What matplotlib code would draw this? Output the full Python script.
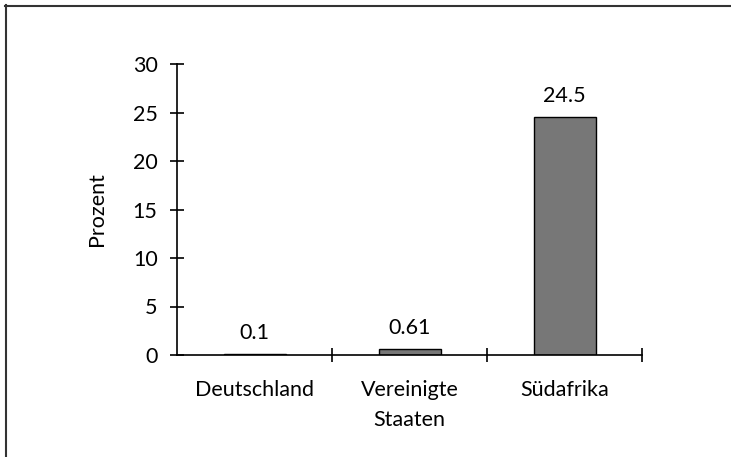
import matplotlib.pyplot as plt
from matplotlib.lines import Line2D
import numpy as np

plt.rcParams['font.family'] = ['Lato', 'DejaVu Sans']

# Daten
laender = ['Deutschland', 'Vereinigte\nStaaten', 'Südafrika']
werte = [0.1, 0.61, 24.5]
beschriftung = ['0.1', '0.61', '24.5']
y_ticks = [0, 5, 10, 15, 20, 25, 30]

fs = 15.5

fig = plt.figure(figsize=(7.31, 4.57), dpi=100)
ax = fig.add_axes([177 / 731, 1 - 355 / 457, 465 / 731, 291 / 457])

x = np.arange(len(laender))
ax.bar(x, werte, width=0.4, color='#777777', edgecolor='black', linewidth=1)

# Werte über den Balken
for xi, w, t in zip(x, werte, beschriftung):
    ax.annotate(t, (xi, w), xytext=(0, 8), textcoords='offset points',
                ha='center', va='bottom', fontsize=fs)

ax.set_xlim(-0.5, 2.5)
ax.set_ylim(0, 30)
ax.set_yticks(y_ticks)
ax.tick_params(axis='y', direction='inout', length=10, width=1.2, labelsize=fs, pad=9)

# Striche zwischen den Kategorien, Namen als Nebenticks
ax.set_xticks([0.5, 1.5, 2.5])
ax.set_xticklabels([])
ax.set_xticks(x, minor=True)
ax.set_xticklabels(laender, minor=True, fontsize=fs, linespacing=1.6)
ax.tick_params(axis='x', which='major', direction='inout', length=10, width=1.2)
ax.tick_params(axis='x', which='minor', length=0, pad=18)

for s in ['top', 'right']:
    ax.spines[s].set_visible(False)
for s in ['left', 'bottom']:
    ax.spines[s].set_linewidth(1.2)

ax.set_ylabel('Prozent', fontsize=fs)
ax.yaxis.set_label_coords(-0.15, 0.5)

# Rahmen oben und links
fig.add_artist(Line2D([5 / 731, 1], [1 - 5.5 / 457, 1 - 5.5 / 457], color='#333333', lw=1.5))
fig.add_artist(Line2D([5.5 / 731, 5.5 / 731], [0, 1 - 5 / 457], color='#333333', lw=1.5))

fig.savefig('out.png', dpi=100)
